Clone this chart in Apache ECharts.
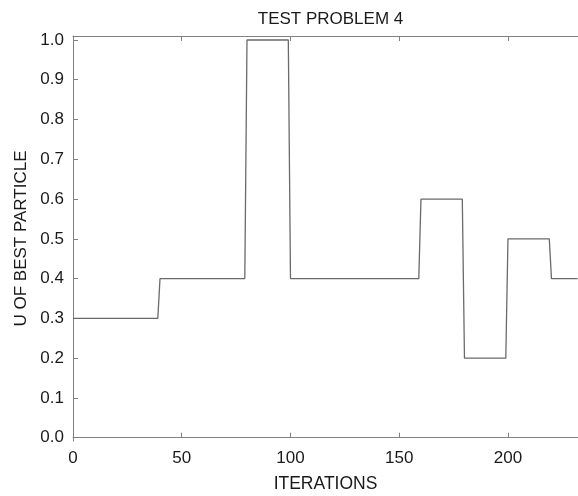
<!DOCTYPE html>
<html>
<head>
<meta charset="utf-8">
<script src="https://cdn.jsdelivr.net/npm/echarts@6/dist/echarts.min.js"></script>
<style>html,body{margin:0;padding:0;background:#fff}#c{width:578px;height:496px}</style>
</head>
<body>
<div id="c"></div>
<script>
var iterations = [0, 39, 40, 79, 80, 99, 100, 159, 160, 179, 180, 199, 200, 219, 220, 232];
var uValues   = [0.3, 0.3, 0.4, 0.4, 1.0, 1.0, 0.4, 0.4, 0.6, 0.6, 0.2, 0.2, 0.5, 0.5, 0.4, 0.4];
var xTicks = [0, 50, 100, 150, 200];
var yTicks = [0, 0.1, 0.2, 0.3, 0.4, 0.5, 0.6, 0.7, 0.8, 0.9, 1.0];

var FONT = '"Liberation Sans", Arial, sans-serif';
var axisGrey = '#808080';
var textCol = '#1a1a1a';

var chart = echarts.init(document.getElementById('c'));
var pts = iterations.map(function (x, i) { return [x, uValues[i]]; });

chart.setOption({
  animation: false,
  title: {
    text: 'TEST PROBLEM 4',
    left: 325.5, top: 6, textAlign: 'center',
    textStyle: { fontFamily: FONT, fontSize: 17, fontWeight: 'normal', color: textCol }
  },
  grid: { left: 73, top: 36, bottom: 55, right: 0, containLabel: false, outerBoundsMode: 'none' },
  xAxis: [{
    type: 'value', min: 0, max: 232.2, position: 'bottom',
    name: 'ITERATIONS', nameLocation: 'middle', nameGap: 34,
    nameTextStyle: { fontFamily: FONT, fontSize: 17.5, color: textCol },
    axisLine: { show: true, lineStyle: { color: axisGrey, width: 1 } },
    axisTick: { show: true, inside: true, length: 5, customValues: xTicks, lineStyle: { color: axisGrey } },
    axisLabel: { customValues: xTicks, margin: 9, fontFamily: FONT, fontSize: 17, color: textCol },
    splitLine: { show: false }
  }, {
    type: 'value', min: 0, max: 232.2, position: 'top',
    axisLine: { show: true, onZero: false, lineStyle: { color: axisGrey, width: 1 } },
    axisTick: { show: true, inside: true, length: 5, customValues: xTicks, lineStyle: { color: axisGrey } },
    axisLabel: { show: false },
    splitLine: { show: false }
  }],
  yAxis: [{
    type: 'value', min: -0.0083, max: 1.01,
    name: 'U OF BEST PARTICLE', nameLocation: 'middle', nameGap: 43, nameRotate: 90,
    nameTextStyle: { fontFamily: FONT, fontSize: 17, color: textCol },
    axisLine: { show: true, onZero: false, lineStyle: { color: axisGrey, width: 1 } },
    axisTick: { show: true, inside: true, length: 5, customValues: yTicks, lineStyle: { color: axisGrey } },
    axisLabel: {
      customValues: yTicks, margin: 9, fontFamily: FONT, fontSize: 17, color: textCol,
      formatter: function (v) { return (Math.round(v * 10) / 10).toFixed(1); }
    },
    splitLine: { show: false }
  }],
  series: [{
    type: 'line',
    data: pts,
    xAxisIndex: 0,
    showSymbol: false,
    symbol: 'none',
    lineStyle: { color: '#6a6a6a', width: 1.3 },
    clip: true
  }]
});
</script>
</body>
</html>
